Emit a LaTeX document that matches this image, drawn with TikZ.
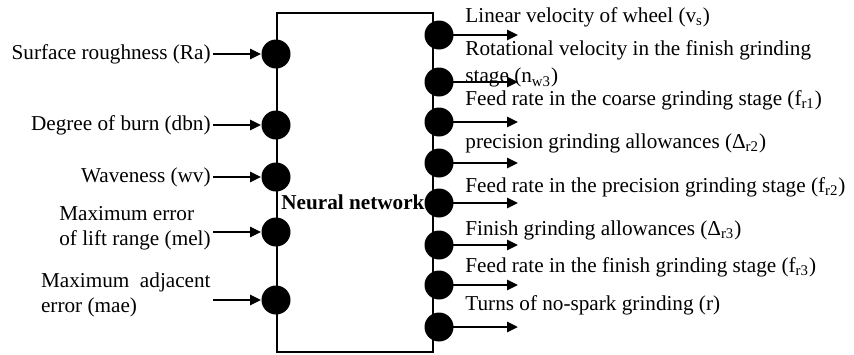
\documentclass[tikz,border=0pt]{standalone}
\usepackage{fontspec}
\setmainfont{Liberation Serif}
\usetikzlibrary{arrows.meta,positioning}

\begin{document}
\begin{tikzpicture}[
  x=0.5pt, y=-0.5pt,
  font=\fontsize{10.6}{12.6}\selectfont,
  neuron/.style={circle, fill=black, inner sep=0pt, minimum size=14.5pt},
  link/.style={-{Triangle[length=5.5pt,width=5pt]}, line width=1.3pt},
  inlabel/.style={anchor=east, inner sep=1pt, align=left},
  outlabel/.style={anchor=west, inner sep=1pt, align=left},
  ]
  \useasboundingbox (0,0) rectangle (854,354);

  \draw[line width=0.7pt] (277,13) rectangle (433,352);
  \node[font=\fontsize{10.6}{12.6}\selectfont\bfseries, anchor=west, inner sep=0pt]
    (net) at (281,202) {Neural network};

  % inputs
  \node[inlabel] (lab1) at (213,54) {Surface roughness (Ra)};
  \node[inlabel] (lab2) at (213,125) {Degree of burn (dbn)};
  \node[inlabel] (lab3) at (213,177) {Waveness (wv)};
  \node[inlabel] (lab4) at (213,228) {Maximum error\\of lift range (mel)};
  \node[inlabel] (lab5) at (213,295) {Maximum\ \ adjacent\\error (mae)};

  \node[neuron] (in1) at (276,54) {};
  \node[neuron] (in2) at (276,125) {};
  \node[neuron] (in3) at (276,177) {};
  \node[neuron] (in4) at (276,232) {};
  \node[neuron] (in5) at (276,300) {};

  \draw[link] (lab1.east |- in1) -- (in1.west);
  \draw[link] (lab2.east |- in2) -- (in2.west);
  \draw[link] (lab3.east |- in3) -- (in3.west);
  \draw[link] (lab4.east |- in4) -- (in4.west);
  \draw[link] (lab5.east |- in5) -- (in5.west);

  % outputs
  \node[outlabel] (olab1) at (463,17) {Linear velocity of wheel (v\textsubscript{s})};
  \node[outlabel] (olab2) at (463,64) {Rotational velocity in the finish grinding\\[1pt]stage (n\textsubscript{w3})};
  \node[outlabel] (olab3) at (463,100) {Feed rate in the coarse grinding stage (f\textsubscript{r1})};
  \node[outlabel] (olab4) at (463,143) {precision grinding allowances (Δ\textsubscript{r2})};
  \node[outlabel] (olab5) at (463,187) {Feed rate in the precision grinding stage (f\textsubscript{r2})};
  \node[outlabel] (olab6) at (463,230) {Finish grinding allowances (Δ\textsubscript{r3})};
  \node[outlabel] (olab7) at (463,267) {Feed rate in the finish grinding stage (f\textsubscript{r3})};
  \node[outlabel] (olab8) at (463,305) {Turns of no-spark grinding (r)};

  \node[neuron] (out1) at (439,35) {};
  \node[neuron] (out2) at (439,82) {};
  \node[neuron] (out3) at (439,122) {};
  \node[neuron] (out4) at (439,163) {};
  \node[neuron] (out5) at (439,203) {};
  \node[neuron] (out6) at (439,245) {};
  \node[neuron] (out7) at (439,285) {};
  \node[neuron] (out8) at (439,327) {};

  \draw[link] (out1.center) -- +(79,0);
  \draw[link] (out2.center) -- +(79,0);
  \draw[link] (out3.center) -- +(79,0);
  \draw[link] (out4.center) -- +(79,0);
  \draw[link] (out5.center) -- +(79,0);
  \draw[link] (out6.center) -- +(79,0);
  \draw[link] (out7.center) -- +(79,0);
  \draw[link] (out8.center) -- +(79,0);

\end{tikzpicture}
\end{document}
